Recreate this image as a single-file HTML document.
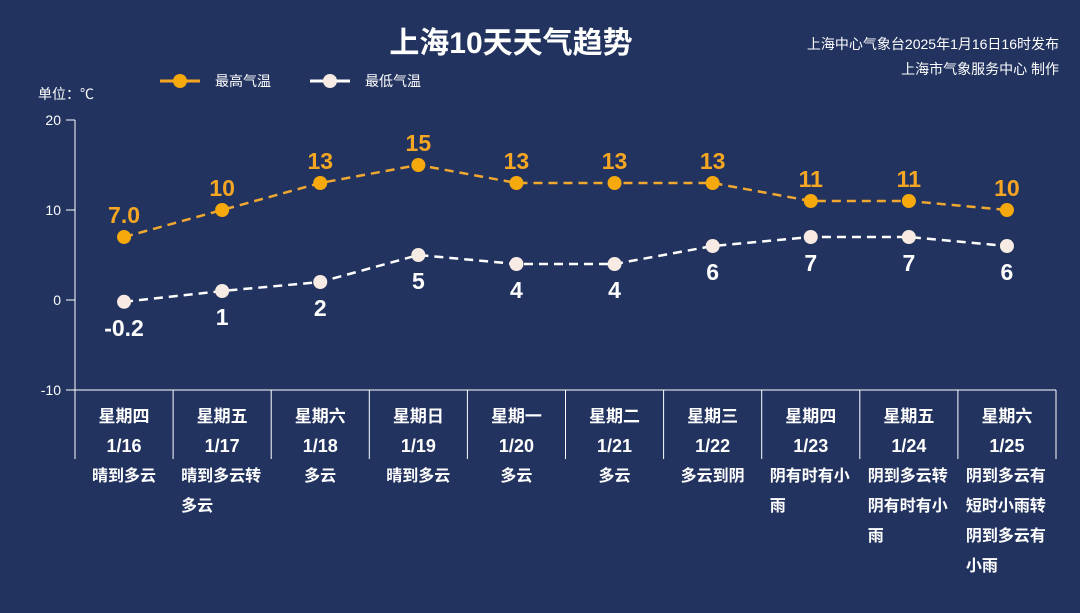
<!DOCTYPE html>
<html><head><meta charset="utf-8">
<style>
html,body{margin:0;padding:0;background:#22335f;}
body{width:1080px;height:613px;overflow:hidden;position:relative;font-family:"Liberation Sans","Noto Sans CJK SC",sans-serif;color:#fff;}
.desc{position:absolute;top:462px;width:98px;text-align:center;font-size:16px;font-weight:bold;line-height:30px;}
.desc span{display:inline-block;text-align:left;max-width:82px;word-break:break-all;}
</style></head>
<body>
<svg id="chart" width="1080" height="613" style="position:absolute;left:0;top:0"></svg>
<div id="descs"></div>
<script>
const days=["星期四","星期五","星期六","星期日","星期一","星期二","星期三","星期四","星期五","星期六"];
const dates=["1/16","1/17","1/18","1/19","1/20","1/21","1/22","1/23","1/24","1/25"];
const weather=["晴到多云","晴到多云转多云","多云","晴到多云","多云","多云","多云到阴","阴有时有小雨","阴到多云转阴有时有小雨","阴到多云有短时小雨转阴到多云有小雨"];
const highs=[7.0,10,13,15,13,13,13,11,11,10];
const highLabels=["7.0","10","13","15","13","13","13","11","11","10"];
const lows=[-0.2,1,2,5,4,4,6,7,7,6];
const lowLabels=["-0.2","1","2","5","4","4","6","7","7","6"];
const yTicks=[20,10,0,-10];

const NS="http://www.w3.org/2000/svg";
const svg=document.getElementById('chart');
const x0=75,colW=98.1,yTop=120,yBot=390,vMax=20,vMin=-10;
const xs=i=>x0+colW*(i+0.5);
const ys=v=>yTop+(vMax-v)/(vMax-vMin)*(yBot-yTop);
function mk(tag,a,txt){const e=document.createElementNS(NS,tag);for(const k in a)e.setAttribute(k,a[k]);if(txt!==undefined)e.textContent=txt;svg.appendChild(e);return e;}
const F='"Liberation Sans","Noto Sans CJK SC",sans-serif';

let t=mk('text',{x:511,y:53,'text-anchor':'middle','font-size':30,'font-weight':'bold',fill:'#fff','font-family':F},'上海10天天气趋势');

t=mk('text',{x:1059,y:49,'text-anchor':'end','font-size':14,fill:'#fff','font-family':F},'上海中心气象台2025年1月16日16时发布');

t=mk('text',{x:1059,y:74,'text-anchor':'end','font-size':14,fill:'#fff','font-family':F},'上海市气象服务中心 制作');

t=mk('text',{x:38,y:99,'font-size':14,fill:'#fff','font-family':F},'单位：℃');


// legend
let l1=mk('line',{x1:160,y1:81,x2:200,y2:81,stroke:'#f5a623','stroke-width':3});

mk('circle',{cx:180,cy:81,r:7,fill:'#f5a90c'});
t=mk('text',{x:215,y:86,'font-size':14,fill:'#fff','font-family':F},'最高气温');

l1=mk('line',{x1:310,y1:81,x2:350,y2:81,stroke:'#fff','stroke-width':3});

mk('circle',{cx:330,cy:81,r:7,fill:'#f7ebe3'});
t=mk('text',{x:365,y:86,'font-size':14,fill:'#fff','font-family':F},'最低气温');


// axes
let ax=mk('line',{x1:x0,y1:yTop,x2:x0,y2:yBot,stroke:'#fff','stroke-width':1});

yTicks.forEach(v=>{
  mk('line',{x1:66,y1:ys(v),x2:x0,y2:ys(v),stroke:'#fff','stroke-width':1});
  const tt=mk('text',{x:61,y:ys(v)+5,'text-anchor':'end','font-size':14,fill:'#fff','font-family':F},String(v));
  
});
ax=mk('line',{x1:66,y1:yBot,x2:1056,y2:yBot,stroke:'#fff','stroke-width':1});

for(let i=0;i<=10;i++){mk('line',{x1:x0+colW*i,y1:yBot,x2:x0+colW*i,y2:459,stroke:'#fff','stroke-width':1});}
days.forEach((d,i)=>{
  let a=mk('text',{x:xs(i),y:422,'text-anchor':'middle','font-size':17,'font-weight':'bold',fill:'#fff','font-family':F},d);
  
  a=mk('text',{x:xs(i),y:452,'text-anchor':'middle','font-size':18,'font-weight':'bold',fill:'#fff','font-family':F},dates[i]);
  
});

function series(vals,labels,lc,pc,above,name){
  const p=mk('polyline',{points:vals.map((v,i)=>xs(i)+','+ys(v)).join(' '),fill:'none',stroke:lc,'stroke-width':2.5,'stroke-dasharray':'9 6'});
  
  vals.forEach((v,i)=>{
    const c=mk('circle',{cx:xs(i),cy:ys(v),r:7,fill:pc});
    
    const l=mk('text',{x:xs(i),y:above?ys(v)-14:ys(v)+34,'text-anchor':'middle','font-size':23,'font-weight':'bold',fill:above?'#f5a623':'#fff','font-family':F},labels[i]);
    
  });
}
series(highs,highLabels,'#f0a830','#f5a90c',true,'high-temp');
series(lows,lowLabels,'#ffffff','#f7ebe3',false,'low-temp');

const dc=document.getElementById('descs');
weather.forEach((w,i)=>{
  const d=document.createElement('div');
  d.className='desc';d.style.left=(x0+colW*i)+'px';
  
  
  const s=document.createElement('span');s.textContent=w;d.appendChild(s);dc.appendChild(d);
});
</script>
</body></html>
